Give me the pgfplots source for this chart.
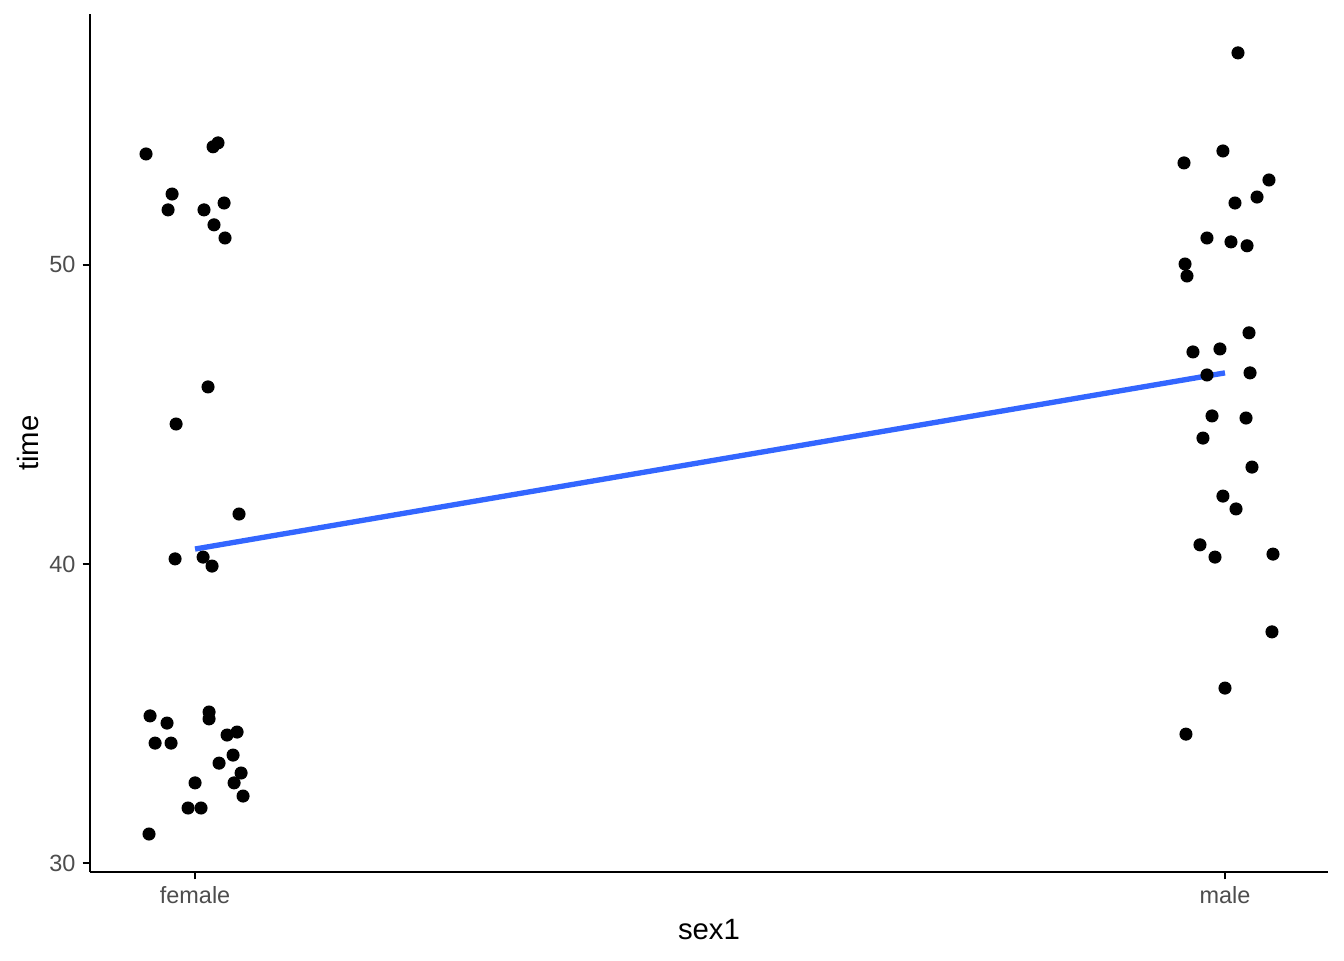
\documentclass[border=0pt]{standalone}
\usepackage{pgfplots}
\pgfplotsset{compat=1.18}
\usetikzlibrary{calc}
\usepackage{fontspec}
\setmainfont{Liberation Sans}
\definecolor{grey30}{HTML}{4D4D4D}
\definecolor{smoothblue}{HTML}{3366FF}
\begin{document}
\begin{tikzpicture}
\begin{axis}[
  scale only axis, width=464.25pt, height=321.75pt,
  xmin=-0.102, xmax=1.1, ymin=29.7, ymax=58.39,
  axis x line*=bottom, axis y line*=left,
  axis line style={line width=0.8pt, black},
  xtick={0,1}, xticklabels={female,male},
  ytick={30,40,50},
  tick style={line width=0.8pt, black},
  tick align=outside, major tick length=2.75pt,
  tick label style={font=\fontsize{8.8}{10}\selectfont, text=grey30},
  xticklabel style={yshift=0.8pt},
  yticklabel style={xshift=0.8pt},
  /pgf/number format/assume math mode=true,
  xlabel={sex1}, ylabel={time},
  label style={font=\fontsize{11}{13}\selectfont},
  xlabel style={at={(rel axis cs:0.5,0)}, anchor=center, yshift=-21.4pt},
  ylabel style={at={(rel axis cs:0,0.5)}, anchor=center, yshift=23.3pt},
  clip=false,
]
\addplot[only marks, mark=*, mark size=2.25pt, black] coordinates {
(-0.0476,53.71) (0.0175,53.95) (0.0223,54.08) (-0.0223,52.37) (-0.0262,51.84)
(0.0087,51.84) (0.0282,52.07) (0.0184,51.34) (0.0291,50.90)
(-0.0437,34.92) (-0.0272,34.68) (-0.0388,34.01) (-0.0233,34.01) (0.0136,35.05)
(0.0136,34.82) (0.0311,34.28) (0.0408,34.38) (0.0369,33.61) (0.0233,33.34)
(0.0447,33.01) (0.0379,32.68) (0.0466,32.24) (0.0000,32.68) (-0.0068,31.84)
(0.0058,31.84) (-0.0447,30.97)
(0.0126,45.92) (-0.0184,44.68) (0.0427,41.67) (-0.0194,40.17) (0.0078,40.23) (0.0165,39.93)
};
\addplot[only marks, mark=*, mark size=2.25pt, black] coordinates {
(1.0126,57.09) (0.9980,53.81) (0.9602,53.41) (1.0427,52.84) (1.0311,52.27)
(1.0097,52.07) (0.9825,50.90) (1.0058,50.77) (1.0214,50.64) (0.9612,50.03)
(0.9631,49.63) (1.0233,47.73) (0.9689,47.09) (0.9951,47.19) (0.9825,46.32)
(1.0243,46.39) (0.9874,44.95) (1.0204,44.88) (0.9786,44.21) (1.0262,43.24)
(0.9980,42.27) (1.0107,41.84) (0.9757,40.64) (0.9903,40.23) (1.0466,40.33)
(1.0456,37.73) (1.0000,35.85) (0.9621,34.31)
};
\addplot[smoothblue, line width=2pt] coordinates {(0,40.50) (1,46.39)};
\coordinate (bbsw) at (rel axis cs:0,0);
\coordinate (bbne) at (rel axis cs:1,1);
\end{axis}
\pgfresetboundingbox
\useasboundingbox ($(bbsw)+(-33.75pt,-33pt)$) rectangle ($(bbne)+(6pt,5.25pt)$);
\end{tikzpicture}
\end{document}
